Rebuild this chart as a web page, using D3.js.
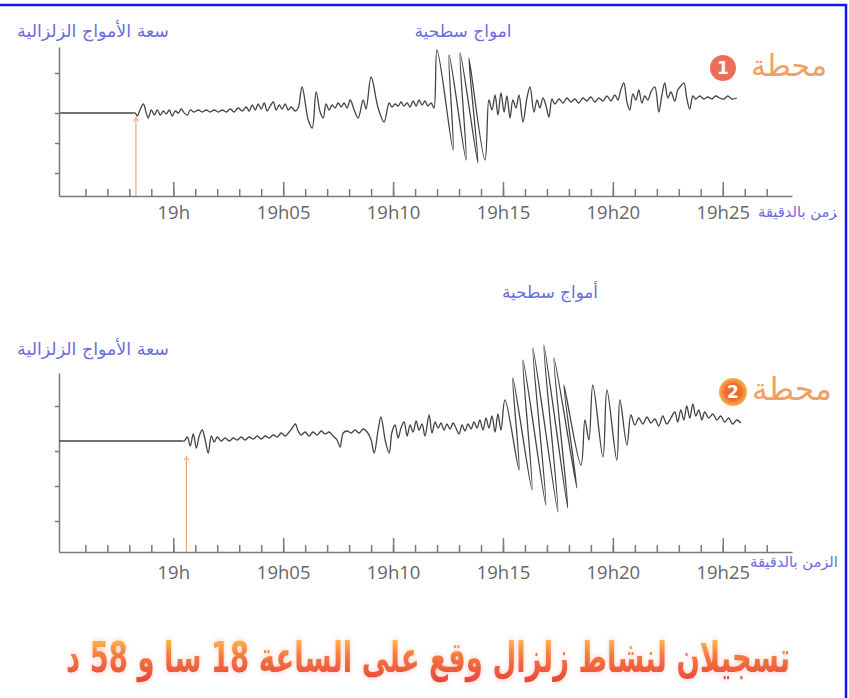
<!DOCTYPE html>
<html>
<head>
<meta charset="utf-8">
<script src="https://cdn.jsdelivr.net/npm/d3@7"></script>
<style>
  body { margin: 0; background: #fff; }
  svg { display: block; }
</style>
</head>
<body>
<svg width="849" height="698"></svg>
<script>
// time in minutes after 19h00, amplitude in arbitrary trace units
const timeDomain = [-5.2, 28.15];
const minuteTicks = d3.range(-4, 28);
const majorMinutes = [0, 5, 10, 15, 20, 25];
const majorLabels = ["19h", "19h05", "19h10", "19h15", "19h20", "19h25"];

const ampDomain1 = [-8.3, 6.6];
const ampDomain2 = [-11.1, 6.8];
const ampTicks1 = [4, 0, -3, -6];
const ampTicks2 = [3.5, -1, -4.5, -8];

const arrivalTimes = [-1.7, 0.6];
const arrowTips = [-0.6, -1.7];

const station1 = [
  [-5.15,0],[-4,0],[-3,0],[-2.2,0],[-1.85,0],[-1.73,0],[-1.64,-0.3],[-1.5,0.4],[-1.36,0.9],[-1.23,0],[-1.14,-0.5],[-1.0,0.3],[-0.86,-0.2],[-0.73,0.3],
  [-0.59,-0.2],[-0.45,0.2],[-0.32,-0.1],[-0.18,0.3],[-0.05,-0.3],[0.09,0.2],[0.23,0],[0.36,0.4],[0.5,0],[0.64,-0.2],
  [0.77,0.3],[0.95,0.1],[1.14,0.3],[1.32,0.1],[1.5,0.3],[1.68,0.1],[1.86,0.3],[2.05,0.1],[2.23,0.3],[2.41,0.1],
  [2.59,0.4],[2.77,0.1],[2.95,0.5],[3.14,0.2],[3.32,0.6],[3.45,0.2],
  [3.59,0.8],[3.73,0.3],[3.86,0.9],[4.0,0.4],[4.14,1.0],[4.27,0.2],[4.41,0.7],[4.55,1.1],[4.68,0.3],[4.82,0.8],
  [4.95,0.4],[5.09,0.9],[5.23,0.3],[5.36,0.6],[5.55,0.2],[5.68,0.5],
  [5.86,2.6],[6.14,-0.7],[6.32,-1.5],[6.5,2.1],[6.68,0.1],[6.82,-0.5],[6.95,0.9],[7.09,0.3],[7.23,0.8],[7.36,0.5],
  [7.5,1.0],[7.64,0.6],[7.77,1.0],[7.91,0.5],[8.05,1.3],[8.23,0.3],[8.41,-0.5],[8.64,1.3],[8.77,0.4],[9.0,3.6],
  [9.32,0.5],[9.59,-0.9],[9.82,1.0],[9.95,0.6],[10.09,0.9],[10.23,0.7],[10.36,1.1],[10.5,0.7],[10.64,1.0],[10.77,0.6],
  [10.91,1.2],[11.05,0.7],[11.18,1.3],[11.32,0.8],[11.45,1.2],[11.59,0.7],[11.73,1.0],[11.86,0.5],
  [12.0,6.3],[12.73,-3.7],[12.55,5.8],[13.32,-4.7],[13.05,6.0],[13.86,-5.0],[13.45,5.5],[14.18,-4.7],[14.36,1.3],
  [14.5,0.3],[14.64,1.8],[14.77,-0.2],[14.91,2.0],[15.05,0.1],[15.18,1.7],[15.32,-0.5],[15.45,1.3],[15.59,0.5],[15.73,1.8],
  [15.91,-0.9],[16.09,1.5],[16.23,2.6],[16.41,0.1],[16.55,1.3],[16.68,0.5],[16.82,1.5],[16.95,0.8],[17.09,-0.4],[17.23,1.4],
  [17.36,0.9],[17.55,1.4],[17.73,1.0],[17.91,1.5],[18.09,1.1],[18.27,1.4],[18.45,1.0],[18.64,1.5],[18.82,1.2],[19.0,1.6],
  [19.18,1.1],[19.36,1.5],[19.55,1.2],[19.73,1.7],[19.91,1.2],[20.09,1.8],[20.23,1.3],
  [20.36,2.3],[20.5,3.0],[20.64,1.1],[20.77,0.3],[20.91,1.9],[21.05,1.3],[21.18,2.3],[21.32,1.0],[21.45,1.7],[21.59,1.3],
  [21.73,2.1],[21.91,2.6],[22.09,0.1],[22.23,1.8],[22.36,3.0],[22.5,1.5],[22.64,2.1],[22.82,1.2],[22.95,2.3],[23.09,2.7],
  [23.23,3.0],[23.36,1.5],[23.5,0.4],[23.64,1.7],[23.77,1.4],
  [23.95,1.7],[24.14,1.4],[24.32,1.6],[24.5,1.4],[24.68,1.7],[24.86,1.5],[25.05,1.4],[25.23,1.7],[25.41,1.4],[25.64,1.5]
];

const station2 = [
  [-5.2,0],[-3,0],[-1,0],[0.1,0],[0.4,0],[0.5,0],[0.64,0.4],[0.77,-0.5],[0.91,0.7],[1.05,-0.7],[1.18,0.5],[1.32,1.1],[1.45,0.1],[1.59,-1.2],
  [1.73,0.5],[1.86,-0.1],[2.0,0.4],[2.18,0],[2.36,0.3],[2.55,0],[2.73,0.3],[2.91,0.1],[3.09,0.4],[3.27,0.1],
  [3.45,0.4],[3.64,0.2],[3.82,0.5],[4.0,0.2],[4.18,0.5],[4.36,0.3],[4.55,0.6],[4.73,0.4],[4.91,0.8],[5.09,0.5],
  [5.27,0.9],[5.41,1.3],[5.55,1.7],[5.68,1.0],[5.82,0.6],[6.0,0.9],[6.18,0.5],[6.36,0.9],[6.55,0.6],[6.73,1.0],
  [6.91,0.7],[7.09,0.9],[7.27,0.5],[7.45,0.1],[7.59,-0.6],[7.73,0.8],[7.91,1.0],[8.09,0.8],[8.27,1.1],[8.45,0.8],
  [8.64,1.2],[8.82,0.9],[9.0,0.1],[9.14,-1.2],[9.32,1.1],[9.45,2.4],[9.64,0.1],[9.82,-1.2],[9.95,0.9],[10.09,1.6],
  [10.23,0.3],[10.36,1.3],[10.5,1.9],[10.64,0.5],[10.77,1.6],[10.91,0.9],[11.05,2.0],[11.18,1.1],[11.32,1.7],[11.45,0.5],
  [11.64,2.6],[11.77,0.8],[11.91,1.9],[12.05,1.3],[12.18,1.8],[12.32,1.1],[12.45,1.7],[12.59,1.2],[12.73,1.8],[12.86,1.3],
  [13.0,0.7],[13.14,1.6],[13.27,1.0],[13.41,1.7],[13.55,1.2],[13.68,1.9],[13.82,1.3],[13.95,2.1],[14.09,1.1],[14.23,2.3],
  [14.36,1.3],[14.5,2.5],[14.64,0.9],[14.77,2.7],[14.91,1.1],
  [15.09,4.1],[15.73,-2.9],[15.45,6.3],[16.32,-4.9],[15.91,8.1],[16.95,-6.4],[16.36,9.3],[17.5,-7.1],[16.86,9.6],[17.95,-6.7],
  [17.32,8.3],[18.36,-4.7],[17.77,5.6],[18.55,-2.4],
  [18.73,2.1],[18.91,0.1],[19.09,5.6],[19.55,-1.6],[19.73,5.1],[20.18,-1.9],[20.32,4.1],[20.64,-0.4],[20.82,2.6],
  [21.0,1.6],[21.18,2.3],[21.36,1.7],[21.55,2.4],[21.73,1.8],[21.91,2.2],[22.09,1.5],[22.27,2.5],[22.45,1.7],[22.64,2.3],
  [22.82,2.9],[22.95,1.9],[23.09,3.1],[23.23,2.1],[23.36,3.5],[23.5,2.3],[23.64,3.7],[23.77,2.5],[23.91,3.1],[24.05,2.1],
  [24.18,2.9],[24.36,2.3],[24.55,2.7],[24.73,2.1],[24.91,2.5],[25.09,1.9],[25.27,2.3],[25.45,1.7],[25.64,2.1],[25.82,1.8]
];

const ampLabel = "سعة الأمواج الزلزالية";
const surfaceLabels = ["امواج سطحية", "أمواج سطحية"];
const timeLabel = "الزمن بالدقيقة";
const stationLabel = "محطة";
const stationNumbers = ["1", "2"];
const title = "تسجيلان لنشاط زلزال وقع على الساعة  18 سا و 58 د";

const svg = d3.select("svg");
const AR = "'DejaVu Sans', sans-serif";
const blue = "#6c6ce0";
const axisColor = "#7a7a7a";

const x = d3.scaleLinear().domain(timeDomain).range([59, 792]);

const defs = svg.append("defs");
defs.append("clipPath").attr("id", "frameClip")
  .append("rect").attr("x", 0).attr("y", 0).attr("width", 837).attr("height", 698);
defs.append("marker")
  .attr("id", "arr").attr("viewBox", "0 0 8 8").attr("refX", 4).attr("refY", 4)
  .attr("markerWidth", 6).attr("markerHeight", 6).attr("orient", "auto")
  .append("path").attr("d", "M1,1 L6,4 L1,7").attr("fill", "none")
  .attr("stroke", "#f2a070").attr("stroke-width", 1.2);

const tg = defs.append("linearGradient").attr("id", "titleGrad")
  .attr("x1", 0).attr("y1", 0).attr("x2", 0).attr("y2", 1);
tg.append("stop").attr("offset", "0%").attr("stop-color", "#ffd24a");
tg.append("stop").attr("offset", "45%").attr("stop-color", "#f47a40");
tg.append("stop").attr("offset", "100%").attr("stop-color", "#e8443a");

const rg = defs.append("radialGradient").attr("id", "badge2");
rg.append("stop").attr("offset", "55%").attr("stop-color", "#ee6a2c");
rg.append("stop").attr("offset", "100%").attr("stop-color", "#f7b050");

const shadow = defs.append("filter").attr("id", "glow")
  .attr("x", "-5%").attr("y", "-30%").attr("width", "110%").attr("height", "160%");
shadow.append("feGaussianBlur").attr("in", "SourceAlpha").attr("stdDeviation", 2).attr("result", "b");
shadow.append("feFlood").attr("flood-color", "#f7b0a0").attr("flood-opacity", 0.7);
shadow.append("feComposite").attr("in2", "b").attr("operator", "in").attr("result", "s");
const fm = shadow.append("feMerge");
fm.append("feMergeNode").attr("in", "s");
fm.append("feMergeNode").attr("in", "SourceGraphic");

function fit(sel, width) {
  const len = sel.node().getComputedTextLength();
  const fs = parseFloat(sel.attr("font-size"));
  sel.attr("font-size", fs * width / len);
  return sel;
}

function arText(g, str, cx, y, size, color, width, weight) {
  const t = g.append("text")
    .attr("x", cx).attr("y", y)
    .attr("direction", "rtl")
    .attr("text-anchor", "middle")
    .attr("font-family", AR)
    .attr("font-weight", weight || "normal")
    .attr("font-size", size)
    .attr("fill", color)
    .text(str);
  if (width) fit(t, width);
  return t;
}

const panels = [
  { data: station1, top: 47, bottom: 196, yDomain: ampDomain1, yTicks: ampTicks1, pad: 10,
    ampY: 37, surfX: 463, surfY: 37, surfW: 97, timeX: 758, timeY: 217,
    badge: [723, 68, 13], badgeFill: "#ec6e5a", stX: 789, stY: 76, stW: 76 },
  { data: station2, top: 373, bottom: 552, yDomain: ampDomain2, yTicks: ampTicks2, pad: 14,
    ampY: 355, surfX: 550, surfY: 298, surfW: 96, timeX: 750, timeY: 567,
    badge: [733, 392, 14], badgeFill: "url(#badge2)", stX: 792, stY: 400, stW: 80 }
];

panels.forEach((p, i) => {
  const g = svg.append("g");
  const y = d3.scaleLinear().domain(p.yDomain).range([p.bottom, p.top]);

  // x axis: minute ticks, longer ticks every 5 minutes
  const minor = g.append("g").attr("transform", `translate(0,${p.bottom})`)
    .call(d3.axisBottom(x).tickValues(minuteTicks).tickSize(-7).tickSizeOuter(0).tickFormat(""));
  const major = g.append("g").attr("transform", `translate(0,${p.bottom})`)
    .call(d3.axisBottom(x).tickValues(majorMinutes).tickSize(-14).tickSizeOuter(0)
      .tickPadding(p.pad).tickFormat((d, k) => majorLabels[k]));
  major.select(".domain").remove();
  const yAxis = g.append("g").attr("transform", `translate(${x(timeDomain[0])},0)`)
    .call(d3.axisLeft(y).tickValues(p.yTicks).tickSize(4).tickSizeOuter(0).tickFormat(""));

  [minor, major, yAxis].forEach(a => {
    a.selectAll("path, line").attr("stroke", axisColor).attr("stroke-width", 1.5);
  });
  major.selectAll("text")
    .attr("font-family", "'Open Sans', sans-serif")
    .attr("font-size", 18.5)
    .attr("fill", "#666");

  // arrival arrow
  g.append("line")
    .attr("x1", x(arrivalTimes[i])).attr("x2", x(arrivalTimes[i]))
    .attr("y1", p.bottom).attr("y2", y(arrowTips[i]))
    .attr("stroke", "#f2a070").attr("stroke-width", 1.1)
    .attr("marker-end", "url(#arr)");

  // seismogram trace
  const line = d3.line().x(d => x(d[0])).y(d => y(d[1])).curve(d3.curveCatmullRom.alpha(0.5));
  g.append("path")
    .datum(p.data)
    .attr("d", line)
    .attr("fill", "none")
    .attr("stroke", "#444")
    .attr("stroke-width", 1.3)
    .attr("stroke-linejoin", "round");

  // labels
  arText(g, ampLabel, 93, p.ampY, 14, blue, 152);
  arText(g, surfaceLabels[i], p.surfX, p.surfY, 13, blue, p.surfW);
  arText(g.append("g").attr("clip-path", "url(#frameClip)"), timeLabel, p.timeX + 44, p.timeY, 12, blue, 88);

  g.append("circle")
    .attr("cx", p.badge[0]).attr("cy", p.badge[1]).attr("r", p.badge[2])
    .attr("fill", p.badgeFill);
  g.append("text")
    .attr("x", p.badge[0]).attr("y", p.badge[1] + 6)
    .attr("text-anchor", "middle")
    .attr("font-family", "'DejaVu Sans', sans-serif")
    .attr("font-weight", "bold")
    .attr("font-size", 17)
    .attr("fill", "#fff")
    .text(stationNumbers[i]);
  arText(g, stationLabel, p.stX, p.stY, 22, "#f2a062", p.stW);
});

// title, squeezed to the width of the reference and stretched upward
const titleG = svg.append("g").attr("transform", "translate(428,672) scale(1,1.55)");
arText(titleG, title, 0, 0, 30, "url(#titleGrad)", 724, "bold")
  .attr("filter", "url(#glow)");

// blue frame (top and right edges)
svg.append("path")
  .attr("d", "M0,5 H846 V698")
  .attr("fill", "none").attr("stroke", "#1515f0").attr("stroke-width", 2.5);
</script>
</body>
</html>
